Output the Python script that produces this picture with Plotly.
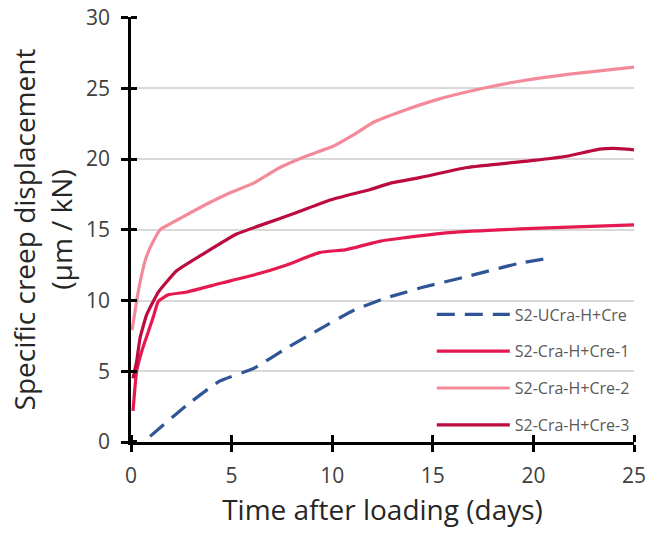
import plotly.graph_objects as go

# Series data (time in days, specific creep displacement in µm/kN)
ucra_x = [0.95, 2.77, 4.4, 6.1, 7.7, 9.4, 11.05, 12.7, 13.7, 14.4, 16.7, 19.2, 20.8]
ucra_y = [0.4, 2.6, 4.3, 5.2, 6.6, 8.0, 9.3, 10.2, 10.6, 10.9, 11.7, 12.6, 13.0]

cre1_x = [0.1, 0.28, 0.53, 0.86, 1.1, 1.36, 1.85, 2.77, 4.4, 6.1, 7.7, 9.4, 10.7, 12.4, 13.4, 15.85, 20.0, 25.0]
cre1_y = [2.2, 5.0, 6.4, 7.8, 8.8, 9.95, 10.4, 10.6, 11.2, 11.8, 12.5, 13.4, 13.6, 14.2, 14.4, 14.8, 15.1, 15.35]

cre2_x = [0.05, 0.37, 0.7, 0.94, 1.44, 2.44, 3.6, 4.9, 6.1, 7.4, 8.7, 10.05, 11.05, 12.05, 13.5, 15.2, 17.5, 19.3, 21.8, 25.0]
cre2_y = [7.9, 10.7, 12.8, 13.7, 15.0, 15.8, 16.7, 17.6, 18.3, 19.4, 20.2, 20.9, 21.7, 22.6, 23.4, 24.2, 25.0, 25.5, 26.0, 26.5]

cre3_x = [0.1, 0.28, 0.45, 0.78, 1.36, 2.27, 3.6, 5.25, 6.6, 8.2, 9.9, 11.9, 12.9, 14.4, 16.7, 20.0, 21.65, 23.3, 24.0, 25.0]
cre3_y = [4.5, 5.7, 7.35, 9.0, 10.6, 12.1, 13.3, 14.7, 15.4, 16.2, 17.1, 17.85, 18.3, 18.7, 19.4, 19.9, 20.2, 20.7, 20.75, 20.65]

names = ["S2-UCra-H+Cre", "S2-Cra-H+Cre-1", "S2-Cra-H+Cre-2", "S2-Cra-H+Cre-3"]
colors = ["#2F5597", "#E5194F", "#F38A9A", "#BC0B3F"]

x_ticks = [0, 5, 10, 15, 20, 25]
y_ticks = [0, 5, 10, 15, 20, 25, 30]

FONT = "Open Sans"
X_RANGE = [0, 25]
Y_RANGE = [0, 30.04]

fig = go.Figure()
series = [(ucra_x, ucra_y), (cre1_x, cre1_y), (cre2_x, cre2_y), (cre3_x, cre3_y)]
for i, ((xs, ys), nm, c) in enumerate(zip(series, names, colors)):
    fig.add_trace(go.Scatter(
        x=xs, y=ys, name=nm, mode="lines", legendgroup=f"g{i}",
        line=dict(color=c, width=3.2, shape="spline", smoothing=0.4,
                  dash="18px,10px" if i == 0 else "solid"),
    ))

axis_common = dict(showline=True, linecolor="black", linewidth=2.5,
                   ticks="outside", tickcolor="black", tickwidth=2.5, ticklen=7,
                   zeroline=False, automargin=False, ticklabeloverflow="allow",
                   tickfont=dict(family=FONT, size=21, color="#404040"))

# inner half of the crossing tick marks (tiny offset so they are not merged with major ticks)
x_inner = [v + 0.001 for v in x_ticks]
y_inner = [v + 0.001 for v in y_ticks]

fig.update_layout(
    width=648, height=533,
    margin=dict(l=131, r=14, t=17, b=90.5),
    paper_bgcolor="white", plot_bgcolor="white",
    font=dict(family=FONT, color="#262626"),
    xaxis=dict(range=X_RANGE, tickvals=x_ticks, showgrid=False, ticklabelstandoff=6,
               minor=dict(tickvals=x_inner, ticks="inside", ticklen=7, tickwidth=2.5, tickcolor="black", showgrid=False),
               title=dict(text="Time after loading (days)", font=dict(family=FONT, size=28, color="#262626"), standoff=13),
               **axis_common),
    yaxis=dict(range=Y_RANGE, tickvals=y_ticks, showgrid=True, gridcolor="#D9D9D9", gridwidth=1.5,
               ticklabelstandoff=7,
               minor=dict(tickvals=y_inner, ticks="inside", ticklen=6, tickwidth=2.5, tickcolor="black", showgrid=False),
               title=dict(text="Specific creep displacement<br>(µm / kN)", font=dict(family=FONT, size=28, color="#262626"), standoff=6),
               **axis_common),
    legend=dict(x=0.598, y=0.34, xanchor="left", yanchor="top", bgcolor="rgba(0,0,0,0)",
                font=dict(family=FONT, size=16, color="#595959"), tracegroupgap=13,
                itemwidth=73),
    showlegend=True,
)

fig.write_html("out.html", config={"displayModeBar": False},
               post_script="document.body.style.margin='0';")
